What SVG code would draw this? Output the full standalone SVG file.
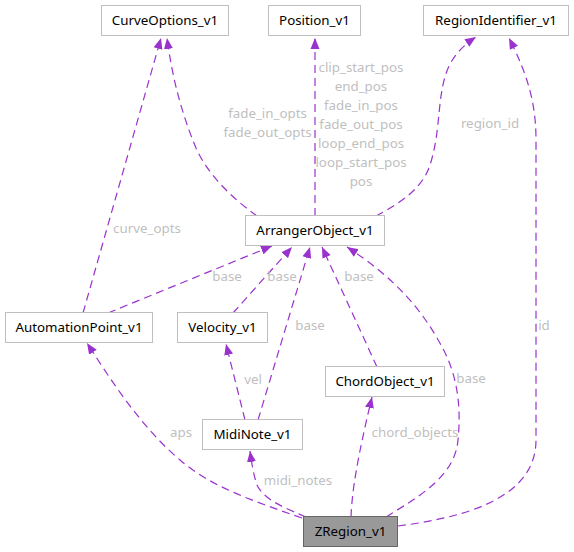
<svg xmlns="http://www.w3.org/2000/svg" width="574" height="552" viewBox="0 0 574 552">
<defs>
<marker id="ah" markerUnits="userSpaceOnUse" markerWidth="12" markerHeight="10" refX="11" refY="5" orient="auto">
<path d="M0,0.5 L11,5 L0,9.5 z" fill="#9a32cd"/>
</marker>
<style>
.node rect{fill:#ffffff;stroke:#bfbfbf;stroke-width:1}
.node text{font-family:"Noto Sans",sans-serif;font-size:13.33px;fill:#000000;text-anchor:middle}
#zregion rect{fill:#999999;stroke:#666666}
.edges path{fill:none;stroke:#9a32cd;stroke-width:1.2;stroke-dasharray:8,5;marker-end:url(#ah)}
.lbl{font-family:"Noto Sans",sans-serif;font-size:13.33px;fill:#bfbfbf;text-anchor:middle}
</style>
</defs>
<rect width="574" height="552" fill="#ffffff"/>
<g class="edges">
<path d="M83,313 L161,38"/>
<path d="M257,216 C232,198 208,175 196,148 C181,112 172,76 167,38"/>
<path d="M315,216 L315,38"/>
<path d="M376,216 C398,204 422,190 430,165 C442,128 436,92 450,64 C458,50 467,43 476,37"/>
<path d="M398,526 C460,518 536,500 536,440 L536,140 C536,100 526,72 509,38"/>
<path d="M108,313 L272,246"/>
<path d="M233,313 L292,247"/>
<path d="M258,420 L310,247"/>
<path d="M377,367 L322,247"/>
<path d="M386,517 C420,496 455,476 458,440 C462,400 455,370 441,345 C422,310 395,278 347,247"/>
<path d="M302,518 C250,500 210,486 180,460 C142,428 112,382 87,343"/>
<path d="M245,420 L226,344"/>
<path d="M306,517 C285,508 264,500 257,485 C254,476 252,466 250,451"/>
<path d="M351,517 C352,490 358,455 372,397"/>
</g>
<g id="curveoptions" class="node"><rect x="101.5" y="5.5" width="127" height="30"/><text x="165" y="25">CurveOptions_v1</text></g>
<g id="position" class="node"><rect x="268.5" y="5.5" width="92" height="30"/><text x="314.5" y="25">Position_v1</text></g>
<g id="regionidentifier" class="node"><rect x="423.5" y="5.5" width="145" height="30"/><text x="496" y="25">RegionIdentifier_v1</text></g>
<g id="arrangerobject" class="node"><rect x="245.5" y="215.5" width="139" height="30"/><text x="315" y="235">ArrangerObject_v1</text></g>
<g id="automationpoint" class="node"><rect x="5.5" y="312.5" width="147" height="30"/><text x="79" y="332">AutomationPoint_v1</text></g>
<g id="velocity" class="node"><rect x="177.5" y="312.5" width="90" height="30"/><text x="222.5" y="332">Velocity_v1</text></g>
<g id="chordobject" class="node"><rect x="325.5" y="366.5" width="119" height="30"/><text x="385" y="386">ChordObject_v1</text></g>
<g id="midinote" class="node"><rect x="202.5" y="419.5" width="100" height="30"/><text x="252.5" y="439">MidiNote_v1</text></g>
<g id="zregion" class="node"><rect x="303.5" y="516.5" width="94" height="30"/><text x="350.5" y="536">ZRegion_v1</text></g>
<g id="labels">
<text class="lbl" x="147" y="233">curve_opts</text>
<text class="lbl" x="267.5" y="118">fade_in_opts</text>
<text class="lbl" x="267.5" y="137">fade_out_opts</text>
<text class="lbl" x="361" y="71.5">clip_start_pos</text>
<text class="lbl" x="361" y="90.5">end_pos</text>
<text class="lbl" x="361" y="109.5">fade_in_pos</text>
<text class="lbl" x="361" y="128.5">fade_out_pos</text>
<text class="lbl" x="361" y="147.5">loop_end_pos</text>
<text class="lbl" x="361" y="166.5">loop_start_pos</text>
<text class="lbl" x="361" y="186">pos</text>
<text class="lbl" x="490" y="128">region_id</text>
<text class="lbl" x="227" y="281">base</text>
<text class="lbl" x="282" y="281">base</text>
<text class="lbl" x="310" y="330">base</text>
<text class="lbl" x="359" y="281">base</text>
<text class="lbl" x="471" y="383">base</text>
<text class="lbl" x="544" y="330">id</text>
<text class="lbl" x="253" y="384">vel</text>
<text class="lbl" x="181" y="437">aps</text>
<text class="lbl" x="415" y="437">chord_objects</text>
<text class="lbl" x="298" y="485">midi_notes</text>
</g>
</svg>
